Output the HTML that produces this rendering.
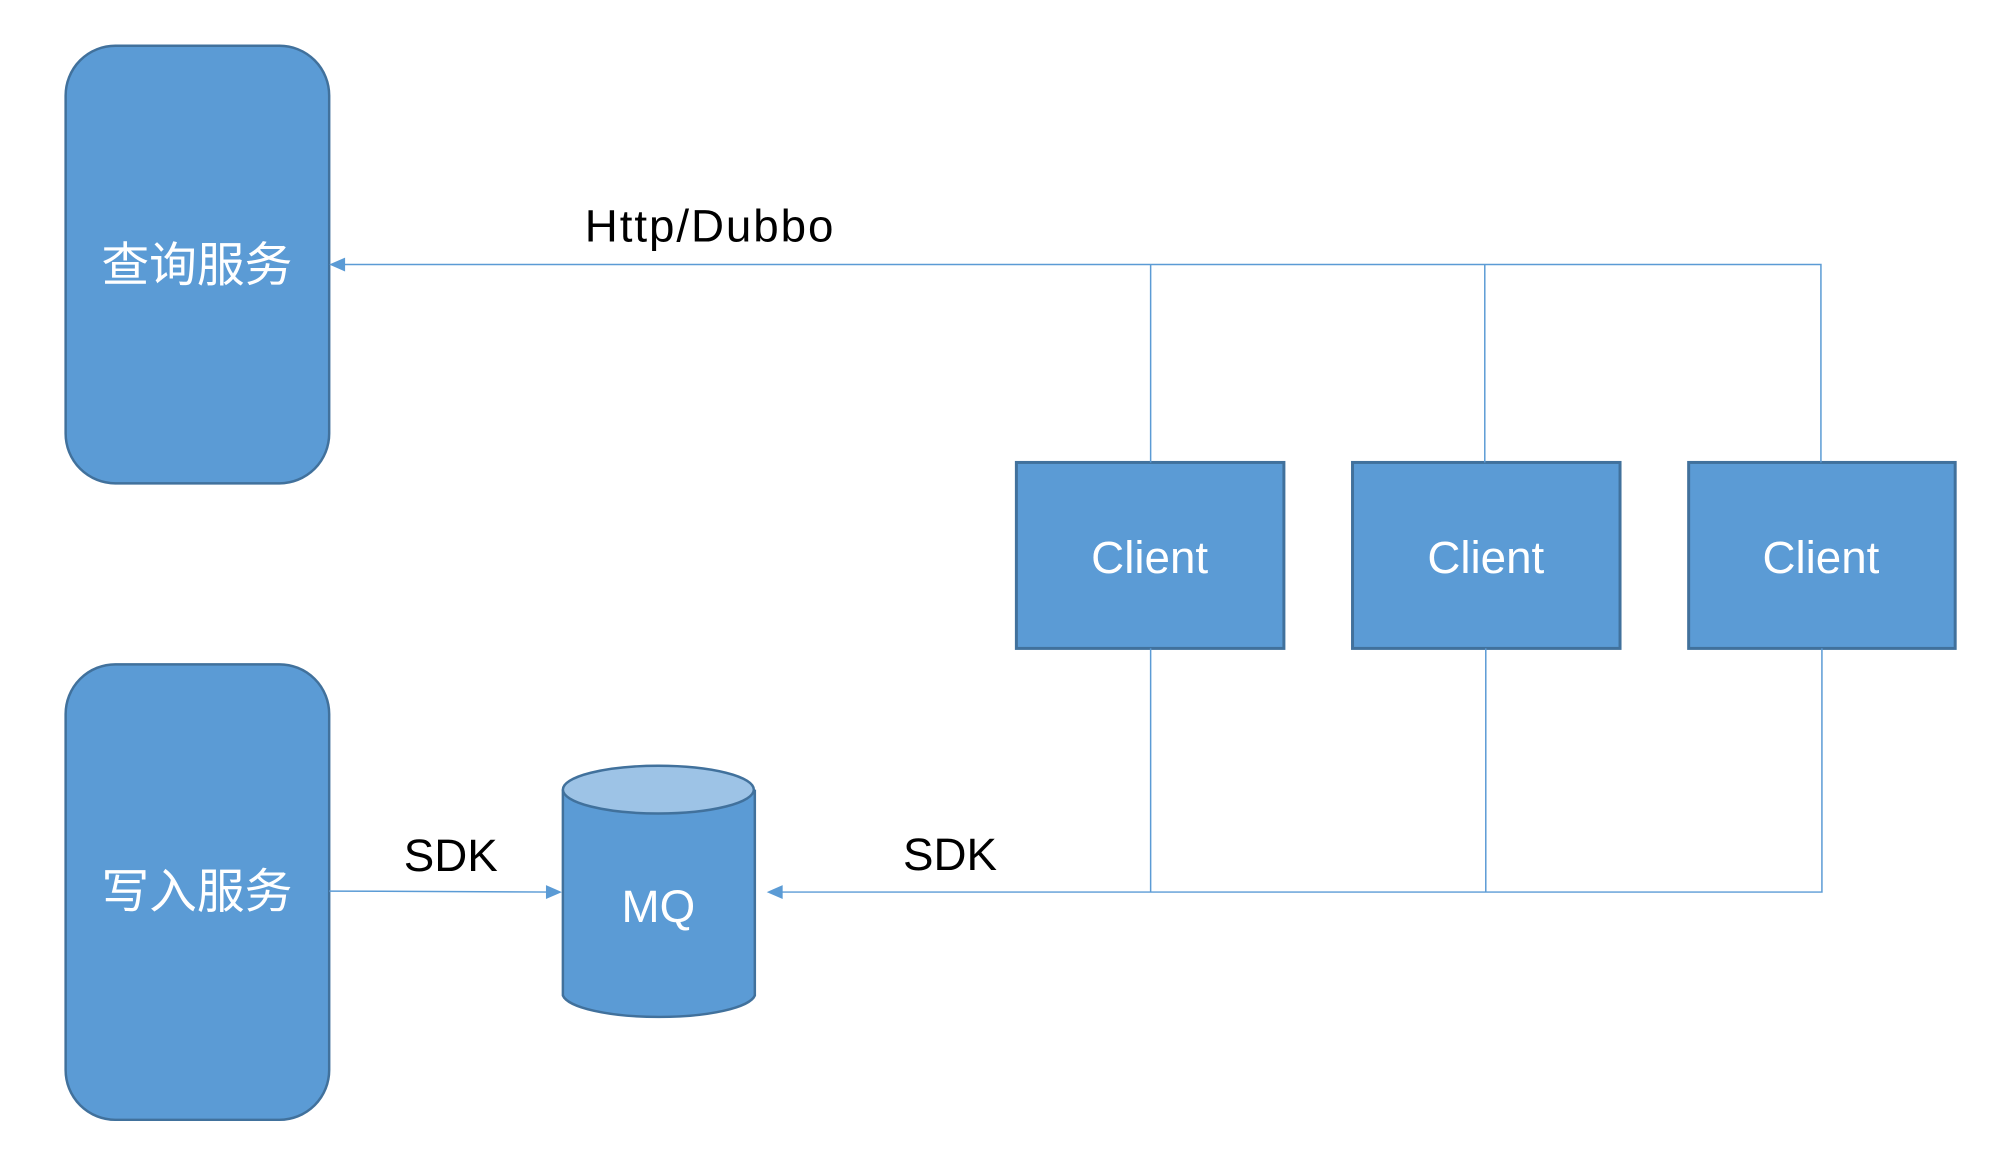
<!DOCTYPE html>
<html><head><meta charset="utf-8"><style>html,body{margin:0;padding:0;background:#fff}</style></head>
<body>
<svg width="2004" height="1154" viewBox="0 0 2004 1154" xmlns="http://www.w3.org/2000/svg" font-family="Liberation Sans, Noto Sans CJK SC, sans-serif">
<g transform="scale(0.9945)">
<rect x="66" y="46" width="265" height="440" rx="50" fill="#5B9BD5" stroke="#41719C" stroke-width="2.5"/>
<rect x="66" y="668" width="265" height="458" rx="50" fill="#5B9BD5" stroke="#41719C" stroke-width="2.5"/>
<g fill="#5B9BD5" stroke="#41719C" stroke-width="3">
<rect x="1022" y="465" width="269" height="187"/>
<rect x="1360" y="465" width="269" height="187"/>
<rect x="1698" y="465" width="268" height="187"/>
</g>
<g stroke="#5B9BD5" stroke-width="1.5" fill="none">
<polyline points="340,266 1831,266 1831,465"/>
<line x1="1157" y1="266" x2="1157" y2="465"/>
<line x1="1493" y1="266" x2="1493" y2="465"/>
<polyline points="786,897 1832,897 1832,652"/>
<line x1="1157" y1="652" x2="1157" y2="897"/>
<line x1="1494" y1="652" x2="1494" y2="897"/>
<line x1="331" y1="896" x2="555" y2="897"/>
</g>
<polygon points="331,266 347,259 347,273" fill="#5B9BD5"/>
<polygon points="771,897 787,890 787,904" fill="#5B9BD5"/>
<polygon points="565,897 549,890 549,904" fill="#5B9BD5"/>
<path d="M566,794 L566,1001 A97,24 0 0 0 759,1001 L759,794" fill="#5B9BD5" stroke="#41719C" stroke-width="2.5"/>
<ellipse cx="662" cy="794" rx="96" ry="24" fill="#9DC3E6" stroke="#41719C" stroke-width="2.5"/>
<g fill="#fff" text-anchor="middle" font-size="48">
<text x="198" y="283">查询服务</text>
<text x="198" y="913">写入服务</text>
<text x="1156" y="576" font-size="46">Client</text>
<text x="1494" y="576" font-size="46">Client</text>
<text x="1831" y="576" font-size="46">Client</text>
<text x="662" y="927" font-size="46">MQ</text>
</g>
<g fill="#000" font-size="46">
<text x="588" y="243" textLength="250">Http/Dubbo</text>
<text x="406" y="876">SDK</text>
<text x="908" y="875">SDK</text>
</g>
</g>
</svg>
</body></html>
